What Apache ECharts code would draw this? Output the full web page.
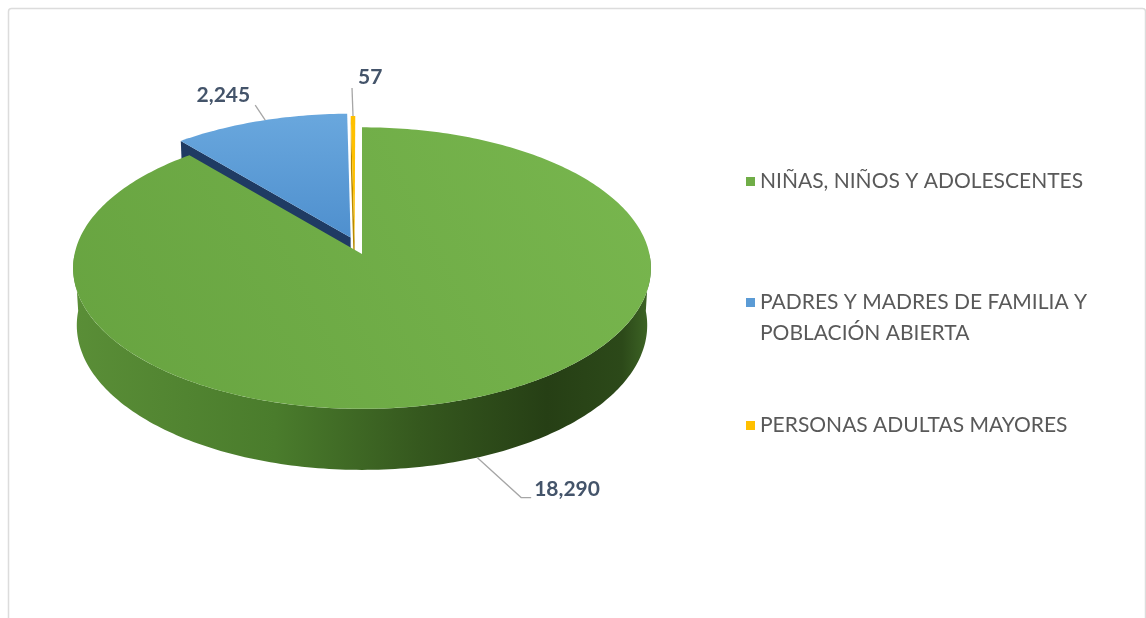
<!DOCTYPE html>
<html>
<head>
<meta charset="utf-8">
<script src="https://cdn.jsdelivr.net/npm/echarts@6/dist/echarts.min.js"></script>
<style>
  html, body { margin: 0; padding: 0; background: #fff; }
  #chart { width: 1146px; height: 618px; }
</style>
</head>
<body>
<div id="chart"></div>
<script>
// data
const categories = [
  "NIÑAS, NIÑOS Y ADOLESCENTES",
  "PADRES Y MADRES DE FAMILIA Y POBLACIÓN ABIERTA",
  "PERSONAS ADULTAS MAYORES",
];
const values = [18290, 2245, 57];

// look
const topColors = ["#70ad47", "#5b9bd5", "#ffc000"];
const sideColors = ["#3c6623", "#1f3b63", "#b88a00"];
// explode offset of each slice on the disk plane [x, z]
const explode = [[0, 0], [-0.04, -0.12], [-0.026, -0.1]];
// label leader: angle shift (deg), on wall or top, bend, tail, text offset, align
const labelLayout = [
  { shift: -1.5, wall: true, bend: [44, 40], tail: [10, 0], text: [3, -8], align: "left" },
  { shift: 1.2, wall: false, bend: [-10, -15], tail: [0, 0], text: [-5, -10], align: "right" },
  { shift: 0, wall: false, bend: [-1, -28], tail: [0, 0], text: [6, -11], align: "left" },
];

// 3d view: tilt, camera distance, scale, thickness
const CX = 362, APEX_Y = 254, K = 2515, DIST = 8.75, H = 0.2296;
const TILT = (29 * Math.PI) / 180;
const SN = Math.sin(TILT), CS = Math.cos(TILT);

const total = values.reduce((a, b) => a + b, 0);
const rad = (d) => (d * Math.PI) / 180;

function project(X, Y, Z) {
  const w = DIST - Y * SN - Z * CS;
  return [CX + (K * X) / w, APEX_Y + (K * (Z * SN - Y * CS)) / w];
}

// slice angles, clockwise from 12 o'clock
const slices = [];
let acc = 0;
values.forEach((v, i) => {
  const a0 = (acc / total) * 360;
  acc += v;
  const a1 = (acc / total) * 360;
  slices.push({ a0, a1, ox: explode[i][0], oz: explode[i][1] });
});

const arcPt = (s, a, down) =>
  project(Math.sin(rad(a)) + s.ox, down ? -H : 0, -Math.cos(rad(a)) + s.oz);
const apex = (s, down) => project(s.ox, down ? -H : 0, s.oz);
const arcPts = (s, a0, a1, down) => {
  const pts = [];
  const n = Math.max(2, Math.ceil(Math.abs(a1 - a0)));
  for (let k = 0; k <= n; k++) pts.push(arcPt(s, a0 + ((a1 - a0) * k) / n, down));
  return pts;
};

const wallFill = {
  type: "linear", x: 73, y: 0, x2: 651, y2: 0, global: true,
  colorStops: [
    { offset: 0, color: "#5a8e37" },
    { offset: 0.35, color: "#4a7c2c" },
    { offset: 0.6, color: "#35581e" },
    { offset: 0.82, color: "#263f15" },
    { offset: 0.95, color: "#2c4919" },
    { offset: 1, color: "#3f6726" },
  ],
};
const topFills = [
  { type: "linear", x: 640, y: 130, x2: 80, y2: 410, global: true,
    colorStops: [{ offset: 0, color: "#78b64e" }, { offset: 1, color: "#67a340" }] },
  { type: "linear", x: 0, y: 110, x2: 0, y2: 245, global: true,
    colorStops: [{ offset: 0, color: "#6aa8de" }, { offset: 1, color: "#4d8ecd" }] },
  "#ffc000",
];

function renderSides(params, api) {
  const i = params.dataIndex;
  const s = slices[i];
  const children = [];
  // cut faces, drawn when they turn to the front
  [[s.a0, -1], [s.a1, 1]].forEach(([a, sign]) => {
    if (sign * Math.sin(rad(a)) > 0.001) {
      children.push({ type: "polygon",
        shape: { points: [apex(s, false), arcPt(s, a, false), arcPt(s, a, true), apex(s, true)] },
        style: { fill: sideColors[i] } });
    }
  });
  // outer wall, front half only
  const w0 = Math.max(s.a0, 90), w1 = Math.min(s.a1, 270);
  if (w1 > w0) {
    const up = arcPts(s, w0, w1, false);
    const dn = arcPts(s, w0, w1, true).reverse();
    children.push({ type: "polygon", shape: { points: up.concat(dn) },
      style: { fill: i === 0 ? wallFill : sideColors[i] } });
  }
  return { type: "group", children };
}

function renderTop(i) {
  return function (params, api) {
    const s = slices[i];
    const pts = [apex(s, false)].concat(arcPts(s, s.a0, s.a1, false));
    const L = labelLayout[i];
    const m = (s.a0 + s.a1) / 2 + L.shift;
    const a = arcPt(s, m, L.wall);
    const b = [a[0] + L.bend[0], a[1] + L.bend[1]];
    const c = [b[0] + L.tail[0], b[1] + L.tail[1]];
    return {
      type: "group",
      children: [
        { type: "polygon", shape: { points: pts }, style: { fill: topFills[i] } },
        { type: "polyline", shape: { points: [a, b, c] },
          style: { stroke: "#a6a6a6", lineWidth: 1.3, fill: null } },
        { type: "text", style: {
            text: api.value(0).toLocaleString("en-US"),
            x: c[0] + L.text[0], y: c[1] + L.text[1],
            align: L.align, verticalAlign: "middle",
            fill: "#44546a", font: "bold 21px Lato",
        } },
      ],
    };
  };
}

const chart = echarts.init(document.getElementById("chart"));

const legendBase = {
  orient: "vertical", left: 746, padding: 0, icon: "rect",
  itemWidth: 9, itemHeight: 9, itemGap: 0, selectedMode: false,
  textStyle: { fontFamily: "Lato", fontSize: 21, color: "#595959" },
};

chart.setOption({
  animation: false,
  graphic: [
    { type: "rect", shape: { x: 8.5, y: 8.5, width: 1137, height: 640, r: 3 },
      style: { fill: null, stroke: "#dcdcdc", lineWidth: 1.5 }, silent: true },
  ],
  legend: [
    Object.assign({}, legendBase, { top: 171, data: [categories[0]] }),
    Object.assign({}, legendBase, {
      top: 287, data: [categories[1]],
      // square sits at the first line of the two-line name
      icon: "path://M0,0L9,0L9,9L0,9Z M0,40L0.01,40",
      itemHeight: 40,
      formatter: (n) => n.replace("FAMILIA Y ", "FAMILIA Y\n"),
      textStyle: Object.assign({}, legendBase.textStyle, { lineHeight: 31 }),
    }),
    Object.assign({}, legendBase, { top: 415, data: [categories[2]] }),
  ],
  series: [
    { type: "custom", name: "sides", coordinateSystem: "none", silent: true, z: 1,
      data: values, renderItem: renderSides },
  ].concat(categories.map((name, i) => ({
    type: "custom", name, coordinateSystem: "none", silent: true, z: 2,
    itemStyle: { color: topColors[i] },
    data: [values[i]], renderItem: renderTop(i),
  }))),
});
</script>
</body>
</html>
